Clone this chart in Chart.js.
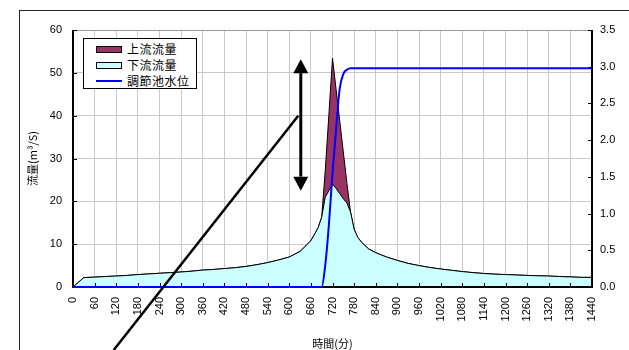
<!DOCTYPE html>
<html>
<head>
<meta charset="utf-8">
<script src="https://cdn.jsdelivr.net/npm/chart.js@4"></script>
<style>
  html, body { margin: 0; padding: 0; background: #fff; }
  #wrap { position: relative; width: 629px; height: 350px; overflow: hidden; }
  #frame { position: absolute; left: 19px; top: 10px; width: 700px; height: 400px;
           border-left: 1px solid #222; border-top: 1px solid #222; }
  #chart { position: absolute; left: 0; top: 0; }
  #legend { position: absolute; left: 83px; top: 38px; width: 114px; height: 51px;
            box-sizing: border-box; border: 1px solid #000; background: #fff;
            padding-top: 2px; font: 12px "Noto Sans CJK JP", sans-serif; letter-spacing: 0.5px; }
  #legend .row { position: relative; height: 16px; line-height: 16px; padding-left: 43px; }
  #legend .box { position: absolute; left: 12px; top: 5px; width: 24px; height: 5px; border: 1px solid #000; }
  #legend .line { position: absolute; left: 12px; top: 7px; width: 26px; height: 2px; }
</style>
</head>
<body>
<div id="wrap">
  <div id="frame"></div>
  <canvas id="chart" width="629" height="350"></canvas>
  <div id="legend"></div>
</div>
<script>
// time (min)
const times = [0, 30, 60, 90, 120, 150, 180, 210, 240, 270, 300, 330, 360, 390, 420, 450, 480, 510, 540, 570,
  600, 630, 660, 680, 690, 700, 710, 720, 730, 740, 750, 760, 770, 780, 790, 800, 820, 840, 870, 900,
  930, 960, 990, 1020, 1050, 1080, 1110, 1140, 1170, 1200, 1230, 1260, 1290, 1320, 1350, 1380, 1410, 1440];

// 上流流量 (m3/s)
const inflow = [0, 2.2, 2.3, 2.45, 2.55, 2.7, 2.9, 3.05, 3.2, 3.35, 3.5, 3.7, 3.95, 4.1, 4.3, 4.5, 4.8, 5.2, 5.7, 6.3,
  7.0, 8.3, 10.8, 13.8, 16.3, 27.3, 40.3, 53.4, 46.1, 38.8, 31.5, 24.2, 17.5, 13.5, 11.6, 10.5, 8.9, 8.0, 7.0, 6.2,
  5.5, 5.0, 4.55, 4.2, 3.9, 3.6, 3.35, 3.15, 3.0, 2.9, 2.8, 2.7, 2.62, 2.55, 2.45, 2.35, 2.25, 2.25];

// 下流流量 (m3/s)
const outflow = [0, 2.2, 2.3, 2.45, 2.55, 2.7, 2.9, 3.05, 3.2, 3.35, 3.5, 3.7, 3.95, 4.1, 4.3, 4.5, 4.8, 5.2, 5.7, 6.3,
  7.0, 8.3, 10.8, 13.8, 16.3, 21.0, 22.5, 24.0, 23.0, 21.8, 20.6, 19.6, 17.5, 13.5, 11.6, 10.5, 8.9, 8.0, 7.0, 6.2,
  5.5, 5.0, 4.55, 4.2, 3.9, 3.6, 3.35, 3.15, 3.0, 2.9, 2.8, 2.7, 2.62, 2.55, 2.45, 2.35, 2.25, 2.25];

// 調節池水位 (m)
const level = [0, 0, 0, 0, 0, 0, 0, 0, 0, 0, 0, 0, 0, 0, 0, 0, 0, 0, 0, 0,
  0, 0, 0, 0, 0, 0.3, 0.85, 1.55, 2.15, 2.7, 2.9, 2.96, 2.98, 2.98, 2.98, 2.98, 2.98, 2.98, 2.98, 2.98,
  2.98, 2.98, 2.98, 2.98, 2.98, 2.98, 2.98, 2.98, 2.98, 2.98, 2.98, 2.98, 2.98, 2.98, 2.98, 2.98, 2.98, 2.98];

// hand-drawn marks, in axis units (time, flow)
const arrowTime = 632;
const arrowRange = [22.5, 53.2];
const leaderFrom = [113, -14.7];
const leaderTo = [625, 40];

const FONT = '"Liberation Sans", "Noto Sans CJK JP", sans-serif';
const JP = '"Noto Sans CJK JP", sans-serif';

const points = vals => vals.map((v, i) => ({ x: times[i], y: v }));

// axis lines and inward tick marks, drawn over the fills but under the level line
const axisFrame = {
    id: 'axisFrame',
    beforeDatasetDraw(chart, args) {
        if (args.index !== 2) return;
        const { ctx, chartArea: a, scales } = chart;
        ctx.save();
        ctx.strokeStyle = '#000';
        ctx.lineWidth = 1;
        ctx.beginPath();
        scales.x.ticks.forEach(t => {
            const px = Math.round(scales.x.getPixelForValue(t.value)) + 0.5;
            ctx.moveTo(px, a.bottom);
            ctx.lineTo(px, a.bottom - 4);
        });
        scales.y.ticks.forEach(t => {
            const py = Math.round(scales.y.getPixelForValue(t.value)) + 0.5;
            ctx.moveTo(a.left, py);
            ctx.lineTo(a.left + 4, py);
        });
        scales.y2.ticks.forEach(t => {
            const py = Math.round(scales.y2.getPixelForValue(t.value)) + 0.5;
            ctx.moveTo(a.right, py);
            ctx.lineTo(a.right - 4, py);
        });
        ctx.stroke();

        ctx.lineWidth = 2;
        ctx.beginPath();
        ctx.moveTo(a.left, a.top);
        ctx.lineTo(a.left, a.bottom);
        ctx.lineTo(a.right, a.bottom);
        ctx.lineTo(a.right, a.top);
        ctx.stroke();
        ctx.restore();
    }
};

// the double arrow and the leader line on top of the chart
const sketchMarks = {
    id: 'sketchMarks',
    afterDraw(chart) {
        const { ctx, scales: { x, y } } = chart;
        const ax = x.getPixelForValue(arrowTime);
        const top = y.getPixelForValue(arrowRange[1]);
        const bot = y.getPixelForValue(arrowRange[0]);
        const head = 14, half = 7.5;
        ctx.save();
        ctx.strokeStyle = '#000';
        ctx.fillStyle = '#000';
        ctx.lineWidth = 3;
        ctx.beginPath();
        ctx.moveTo(ax, top + head);
        ctx.lineTo(ax, bot - head);
        ctx.stroke();
        ctx.beginPath();
        ctx.moveTo(ax, top);
        ctx.lineTo(ax - half, top + head);
        ctx.lineTo(ax + half, top + head);
        ctx.closePath();
        ctx.moveTo(ax, bot);
        ctx.lineTo(ax - half, bot - head);
        ctx.lineTo(ax + half, bot - head);
        ctx.closePath();
        ctx.fill();

        ctx.lineWidth = 2.5;
        ctx.beginPath();
        ctx.moveTo(x.getPixelForValue(leaderFrom[0]), y.getPixelForValue(leaderFrom[1]));
        ctx.lineTo(x.getPixelForValue(leaderTo[0]), y.getPixelForValue(leaderTo[1]));
        ctx.stroke();
        ctx.restore();
    }
};

const chart = new Chart(document.getElementById('chart'), {
    type: 'line',
    data: {
        datasets: [
            {
                label: '上流流量',
                data: points(inflow),
                borderColor: '#000',
                borderWidth: 1,
                backgroundColor: '#993366',
                fill: 'origin',
                pointRadius: 0,
                order: 3,
            },
            {
                label: '下流流量',
                data: points(outflow),
                borderColor: '#000',
                borderWidth: 1,
                backgroundColor: '#CCFFFF',
                fill: 'origin',
                pointRadius: 0,
                order: 2,
            },
            {
                label: '調節池水位',
                data: points(level),
                yAxisID: 'y2',
                borderColor: '#0000FF',
                borderWidth: 2,
                fill: false,
                pointRadius: 0,
                cubicInterpolationMode: 'monotone',
                clip: 4,
                order: 1,
            },
        ],
    },
    options: {
        responsive: false,
        animation: false,
        devicePixelRatio: 1,
        layout: { padding: { left: 0, right: 0, top: 30, bottom: 0 } },
        plugins: {
            legend: { display: false },
            tooltip: { enabled: false },
        },
        scales: {
            x: {
                type: 'linear',
                min: 0,
                max: 1440,
                afterFit: s => { s.height = 63; },
                border: { display: false },
                grid: { color: '#c8c8c8', drawTicks: false },
                ticks: {
                    stepSize: 60,
                    autoSkip: false,
                    minRotation: 90,
                    maxRotation: 90,
                    padding: 10,
                    color: '#000',
                    font: { family: FONT, size: 11 },
                    callback: v => String(v),
                },
                title: {
                    display: true,
                    text: '時間(分)',
                    color: '#000',
                    font: { family: JP, size: 11 },
                    padding: { top: 0, bottom: 0 },
                },
            },
            y: {
                position: 'left',
                min: 0,
                max: 60,
                afterFit: s => { s.width = 73; },
                border: { display: false },
                grid: {
                    color: c => (c.tick && c.tick.value === 60 ? '#999' : '#c8c8c8'),
                    drawTicks: false,
                },
                ticks: {
                    stepSize: 10,
                    padding: 11,
                    color: '#000',
                    font: { family: FONT, size: 11 },
                },
                title: {
                    display: true,
                    text: '流量(m³/S)',
                    color: '#000',
                    font: { family: JP, size: 11 },
                    padding: { top: 26, bottom: 0 },
                },
            },
            y2: {
                position: 'right',
                min: 0,
                max: 3.5,
                afterFit: s => { s.width = 37; },
                border: { display: false },
                grid: { drawOnChartArea: false, drawTicks: false },
                ticks: {
                    stepSize: 0.5,
                    padding: 8,
                    color: '#000',
                    font: { family: FONT, size: 11 },
                    callback: v => v.toFixed(1),
                },
            },
        },
    },
    plugins: [axisFrame, sketchMarks],
});

// legend box inside the plot
const legendBox = document.getElementById('legend');
chart.data.datasets.forEach(ds => {
    const row = document.createElement('div');
    row.className = 'row';
    const sw = document.createElement('span');
    if (ds.fill) {
        sw.className = 'box';
        sw.style.background = ds.backgroundColor;
    } else {
        sw.className = 'line';
        sw.style.background = ds.borderColor;
    }
    row.appendChild(sw);
    row.appendChild(document.createTextNode(ds.label));
    legendBox.appendChild(row);
});
</script>
</body>
</html>
